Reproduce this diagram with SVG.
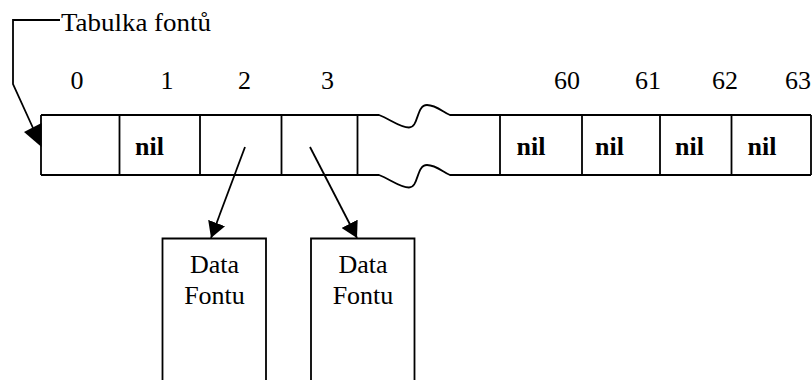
<svg xmlns="http://www.w3.org/2000/svg" width="812" height="380" viewBox="0 0 812 380">
<style>
  .ln { fill: none; stroke: #000; stroke-width: 1.8; }
  .t { font-family: "Liberation Serif", "Times New Roman", serif; font-size: 26px; fill: #000; }
  .b { font-family: "Liberation Serif", "Times New Roman", serif; font-size: 26px; font-weight: bold; fill: #000; }
  .c { text-anchor: middle; }
</style>
<defs>
  <marker id="arr" markerUnits="userSpaceOnUse" viewBox="0 0 16 18" refX="16" refY="9" markerWidth="16" markerHeight="18" orient="auto">
    <path d="M0,0 L16,9 L0,18 z" fill="#000"/>
  </marker>
</defs>
<rect width="812" height="380" fill="#fff"/>

<g id="label-tabulka">
  <text class="t" x="61" y="31" textLength="150" lengthAdjust="spacingAndGlyphs">Tabulka fontů</text>
</g>

<g id="indices">
  <text class="t c" x="77" y="89">0</text>
  <text class="t c" x="167" y="89">1</text>
  <text class="t c" x="244.5" y="89">2</text>
  <text class="t c" x="327.5" y="89">3</text>
  <text class="t c" x="567" y="89">60</text>
  <text class="t c" x="648" y="89">61</text>
  <text class="t c" x="725" y="89">62</text>
  <text class="t c" x="798" y="89">63</text>
</g>

<g id="table">
  <path class="ln" d="M41,115 L357.5,115 L379,115 C390,119 400,127.5 409,127.5 C419,127.5 416,105 427,105 C436,105 443,112 450,115 L811,115"/>
  <path class="ln" d="M41,175 L357.5,175 L379,175 C390,179 400,187.5 409,187.5 C419,187.5 416,165 427,165 C436,165 443,172 450,175 L811,175"/>
  <path class="ln" d="M41,115 V175 M119.5,115 V175 M200,115 V175 M281.5,115 V175 M357.5,115 V175 M500,115 V175 M582,115 V175 M660,115 V175 M731.5,115 V175 M811,115 V175"/>
  <text class="b" x="135" y="155">nil</text>
  <text class="b" x="516.5" y="155">nil</text>
  <text class="b" x="595" y="155">nil</text>
  <text class="b" x="675" y="155">nil</text>
  <text class="b" x="747.5" y="155">nil</text>
</g>

<g id="data1">
  <path class="ln" d="M162.5,390 V238.5 H266 V390"/>
  <text class="t c" x="214.5" y="273">Data</text>
  <text class="t c" x="214.5" y="304">Fontu</text>
</g>

<g id="data2">
  <path class="ln" d="M311,390 V238.5 H414.5 V390"/>
  <text class="t c" x="363" y="273">Data</text>
  <text class="t c" x="363" y="304">Fontu</text>
</g>

<g id="connectors">
  <path class="ln" d="M60,20 H13 V84 L33,128"/>
  <polygon points="24,132 41.5,123 41.5,147" fill="#000"/>
  <line class="ln" x1="245" y1="147" x2="211" y2="238" marker-end="url(#arr)"/>
  <line class="ln" x1="310" y1="147" x2="357" y2="238" marker-end="url(#arr)"/>
</g>
</svg>
